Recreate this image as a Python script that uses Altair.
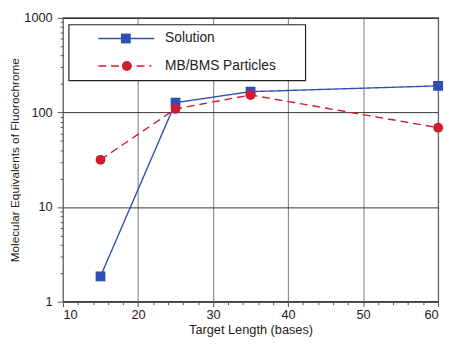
import altair as alt
import pandas as pd

lengths = [15, 25, 35, 60]
solution = [1.85, 127, 166, 191]
particles = [31.6, 109, 153, 69]
series_names = ["Solution", "MB/BMS Particles"]
colors = ["#2f4fb4", "#d01c2b"]
x_ticks = [10, 20, 30, 40, 50, 60]
x_minor = list(range(10, 61, 2))
y_ticks = [1, 10, 100, 1000]
y_minor = [m * 10 ** e for e in range(3) for m in range(1, 10)] + [1000]

df = pd.DataFrame({
    "length": lengths * 2,
    "value": solution + particles,
    "series": [series_names[0]] * 4 + [series_names[1]] * 4,
})

FONT = "Liberation Sans"
W, H = 382, 289

x_major_test = "datum.value % 10 === 0"
y_major_test = "abs(log(datum.value)/LN10 - round(log(datum.value)/LN10)) < 1e-6"

x_enc = alt.X(
    "length:Q",
    scale=alt.Scale(domain=[10, 60], nice=False, zero=False),
    axis=alt.Axis(
        title="Target Length (bases)",
        values=x_minor,
        labelExpr=f"{x_major_test} ? datum.label : ''",
        tickSize={"condition": {"test": x_major_test, "value": 5}, "value": 3},
        gridOpacity={"condition": {"test": x_major_test, "value": 1}, "value": 0},
        grid=True,
        gridColor="#777777",
        gridWidth=1,
        tickColor="#555555",
        labelPadding=2,
        labelFontSize=13,
        titleFontSize=13,
        titleFontWeight="normal",
        titlePadding=2,
        labelFont=FONT,
        titleFont=FONT,
        labelColor="#222222",
        titleColor="#222222",
        domain=False,
    ),
)
y_enc = alt.Y(
    "value:Q",
    scale=alt.Scale(type="log", domain=[1, 1000], nice=False),
    axis=alt.Axis(
        title="Molecular Equivalents of Fluorochrome",
        values=y_minor,
        format="d",
        labelExpr=f"{y_major_test} ? datum.label : ''",
        tickSize={"condition": {"test": y_major_test, "value": 6}, "value": 3},
        gridOpacity={"condition": {"test": y_major_test, "value": 1}, "value": 0},
        grid=True,
        gridColor="#333333",
        gridWidth=1,
        tickColor="#555555",
        labelPadding=5,
        labelFontSize=13,
        titleFontSize=12,
        titleFontWeight="normal",
        titlePadding=2,
        labelFont=FONT,
        titleFont=FONT,
        labelColor="#222222",
        titleColor="#222222",
        domain=False,
    ),
)

color = alt.Color("series:N", scale=alt.Scale(domain=series_names, range=colors), legend=None)

lines = alt.Chart(df).mark_line(strokeWidth=1.4).encode(
    x=x_enc, y=y_enc, color=color,
    strokeDash=alt.StrokeDash("series:N", scale=alt.Scale(domain=series_names, range=[[1, 0], [8, 5]]), legend=None),
)
points = alt.Chart(df).mark_point(filled=True, opacity=1).encode(
    x=x_enc, y=y_enc, color=color,
    shape=alt.Shape("series:N", scale=alt.Scale(domain=series_names, range=["square", "circle"]), legend=None),
    size=alt.value(100),
)

# hand-drawn legend box
leg_src = pd.DataFrame({"series": series_names})
box = alt.Chart(leg_src.head(1)).mark_rect(fill="white", stroke="#222222", strokeWidth=1.2).encode(
    x=alt.value(6), x2=alt.value(247), y=alt.value(7), y2=alt.value(64)
)
leg_layers = [box]
rows = [
    (series_names[0], colors[0], 21, [1, 0], "square", 36, 93, 64),
    (series_names[1], colors[1], 49, [8, 5], "circle", 36, 90, 65),
]
for name, col, yy, dash, shp, xa, xb, xm in rows:
    d = pd.DataFrame({"series": [name]})
    leg_layers.append(alt.Chart(d).mark_rule(color=col, strokeWidth=1.4, strokeDash=dash).encode(
        x=alt.value(xa), x2=alt.value(xb), y=alt.value(yy)))
    leg_layers.append(alt.Chart(d).mark_point(filled=True, opacity=1, color=col, shape=shp, size=100).encode(
        x=alt.value(xm), y=alt.value(yy)))
    leg_layers.append(alt.Chart(d).mark_text(align="left", baseline="middle", fontSize=14, font=FONT, color="#222222").encode(
        x=alt.value(104), y=alt.value(yy), text="series:N"))

chart = alt.layer(lines, points, *leg_layers).properties(
    width=W, height=H,
    autosize=alt.AutoSizeParams(type="none"),
    padding={"left": 56, "top": 7, "right": 7, "bottom": 36},
).configure_view(stroke="#111111", strokeWidth=1.2)

chart.save("out.html", embed_options={"renderer": "svg", "actions": False})
